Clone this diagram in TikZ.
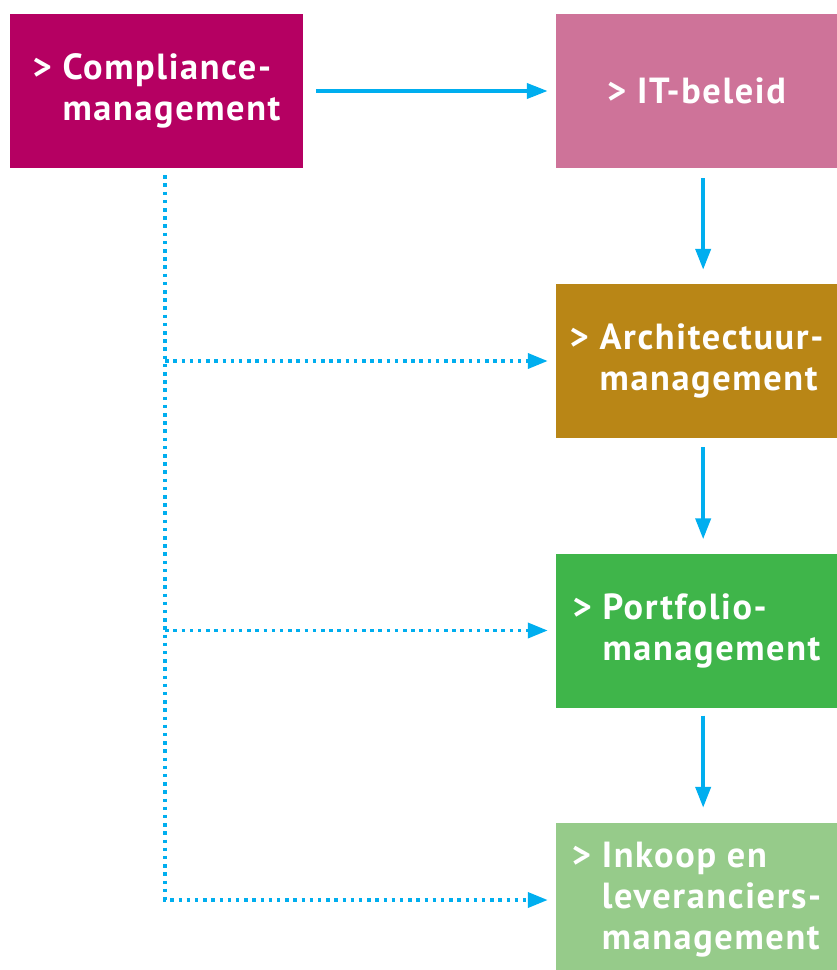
\documentclass[tikz,border=0pt]{standalone}
\usepackage{fontspec}
\setmainfont{PT Sans}[LetterSpace=4.5]
\usetikzlibrary{positioning,arrows.meta}

\definecolor{compl}{RGB}{181,0,98}
\definecolor{itbel}{RGB}{206,115,153}
\definecolor{archi}{RGB}{185,134,22}
\definecolor{portf}{RGB}{63,181,74}
\definecolor{inkoop}{RGB}{150,203,138}
\definecolor{pijl}{RGB}{0,174,239}

\tikzset{
  blok/.style={fill=#1, text=white, minimum width=8.43cm, minimum height=4.62cm,
               align=left, font=\fontsize{31}{35}\selectfont\bfseries, inner sep=0pt},
  pijllijn/.style={pijl, line width=3.4pt, -{Triangle[length=0.63cm,width=0.45cm]}},
  stippel/.style={pijl, line width=3.2pt, dash pattern=on 3pt off 4pt,
                  -{Triangle[length=0.6cm,width=0.45cm]}, shorten >=0.24cm}
}
\newcommand\ind{\hphantom{>}~}

\begin{document}
\begin{tikzpicture}[x=0.03cm,y=-0.03cm]
  \useasboundingbox (0,0) rectangle (837,970);
  \clip (0,0) rectangle (837,970);
  \node (comp) [blok=compl, minimum width=8.79cm] at (156.5,91) {>~Compliance-\\\ind management};
  \node (it)   [blok=itbel] at (696.5,91)  {>~IT-beleid};
  \node (arch) [blok=archi] at (696.5,361) {>~Architectuur-\\\ind management};
  \node (port) [blok=portf] at (696.5,630.5) {>~Portfolio-\\\ind management};
  \node (ink)  [blok=inkoop] at (696.5,900) {>~Inkoop en\\\ind leveranciers-\\\ind management};

  % doorgaande lijn
  \draw[pijllijn] ([xshift=0.39cm]comp.east) -- ([xshift=-0.24cm]it.west);
  \draw[pijllijn] ([xshift=0.2cm,yshift=-0.3cm]it.south) -- ([xshift=0.2cm,yshift=0.42cm]arch.north);
  \draw[pijllijn] ([xshift=0.2cm,yshift=-0.27cm]arch.south) -- ([xshift=0.2cm,yshift=0.42cm]port.north);
  \draw[pijllijn] ([xshift=0.2cm,yshift=-0.24cm]port.south) -- ([xshift=0.2cm,yshift=0.45cm]ink.north);

  % gestippelde takken
  \coordinate (stam) at ([xshift=0.26cm,yshift=-0.21cm]comp.south);
  \draw[stippel] (stam) |- (ink.west);
  \draw[stippel] (arch.west -| stam) -- (arch.west);
  \draw[stippel] (port.west -| stam) -- (port.west);
\end{tikzpicture}
\end{document}
